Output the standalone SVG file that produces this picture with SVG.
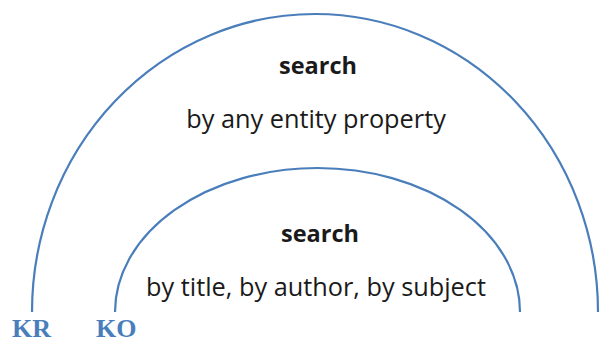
<svg xmlns="http://www.w3.org/2000/svg" width="600" height="344" viewBox="0 0 600 344">
<style>
.arc{fill:none;stroke:#4a7ebb;stroke-width:2.2}
.t{font-family:"Open Sans",sans-serif;fill:#1a1a1a;text-anchor:middle}
.b{font-weight:bold;font-size:23.5px}
.n{font-size:25.3px}
.k{font-family:"Liberation Serif",serif;font-weight:bold;font-size:26px;fill:#4a7ebb}
</style>
<rect width="600" height="344" fill="#ffffff"/>
<g id="connectors">
<path id="outer-arc" class="arc" d="M 32 312 A 283 298 0 0 1 598 312"/>
<path id="inner-arc" class="arc" d="M 115 312 A 202.5 144 0 0 1 520 312"/>
</g>
<g id="outer">
<text class="t b" x="318" y="74">search</text>
<text class="t n" x="316" y="128">by any entity property</text>
</g>
<g id="inner">
<text class="t b" x="320" y="242">search</text>
<text class="t n" x="316" y="296">by title, by author, by subject</text>
</g>
<g id="labels">
<text class="k" x="12" y="337">KR</text>
<text class="k" x="96" y="337">KO</text>
</g>
</svg>
